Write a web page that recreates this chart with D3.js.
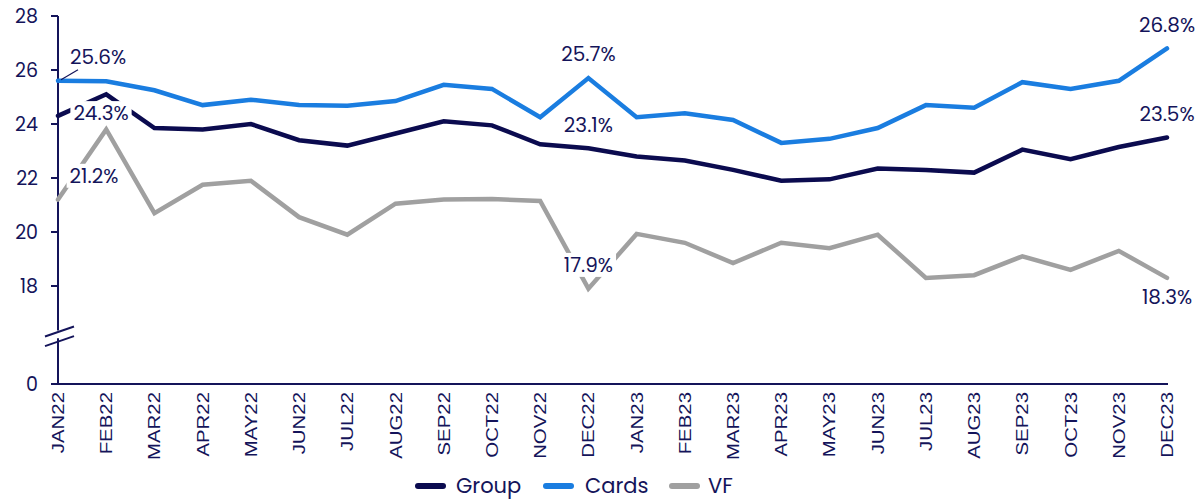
<!DOCTYPE html>
<html>
<head>
<meta charset="utf-8">
<script src="https://cdn.jsdelivr.net/npm/d3@7"></script>
<style>
  body { margin: 0; background: #fff; }
  svg { display: block; }
</style>
</head>
<body>
<div id="chart"></div>
<script>
////////////////////////////////////////////////////////////////////////////////
/////////////////////////////////////////////////////////////////////// Data
////////////////////////////////////////////////////////////////////////////////

const months = ["JAN22", "FEB22", "MAR22", "APR22", "MAY22", "JUN22", "JUL22",
                "AUG22", "SEP22", "OCT22", "NOV22", "DEC22", "JAN23", "FEB23",
                "MAR23", "APR23", "MAY23", "JUN23", "JUL23", "AUG23", "SEP23",
                "OCT23", "NOV23", "DEC23"];

const groupValues = [24.3, 25.1, 23.85, 23.8, 24.0, 23.4, 23.2, 23.65, 24.1, 23.95,
                     23.25, 23.1, 22.8, 22.65, 22.3, 21.9, 21.95, 22.35, 22.3, 22.2,
                     23.05, 22.7, 23.15, 23.5];

const cardsValues = [25.6, 25.58, 25.25, 24.7, 24.9, 24.7, 24.68, 24.85, 25.45, 25.3,
                     24.25, 25.7, 24.25, 24.4, 24.15, 23.3, 23.45, 23.85, 24.7, 24.6,
                     25.55, 25.3, 25.6, 26.8];

const vfValues = [21.2, 23.8, 20.7, 21.75, 21.9, 20.55, 19.9, 21.05, 21.2, 21.22,
                  21.15, 17.9, 19.93, 19.6, 18.85, 19.6, 19.4, 19.9, 18.3, 18.4,
                  19.1, 18.6, 19.3, 18.3];

const yTicks = [0, 18, 20, 22, 24, 26, 28];

const seriesNames = ["Group", "Cards", "VF"];

// data labels: series, month
const labelPoints = [
  ["Cards", "JAN22"], ["Group", "JAN22"], ["VF", "JAN22"],
  ["Cards", "DEC22"], ["Group", "DEC22"], ["VF", "DEC22"],
  ["Cards", "DEC23"], ["Group", "DEC23"], ["VF", "DEC23"]
];

////////////////////////////////////////////////////////////////////////////////
/////////////////////////////////////////////////////////////////////// Chart
////////////////////////////////////////////////////////////////////////////////

const navy = "#14145a";
const colors = { Group: "#0b0b4f", Cards: "#1a7de0", VF: "#a0a0a0" };
const values = { Group: groupValues, Cards: cardsValues, VF: vfValues };
const numFont = "Poppins, Inter, 'Noto Sans', sans-serif";

const W = 1201, H = 499;

const svg = d3.select("#chart")
              .append("svg")
                .attr("width", W)
                .attr("height", H);

// X scale
const xScale = d3.scalePoint()
                 .domain(months)
                 .range([58, 1167]);

// Y scale with a break between 0 and 16
const yScale = d3.scaleLinear()
                 .domain([0, 16, 28])
                 .range([384, 340, 16]);

// Y axis (drawn in two pieces around the break)
const breakTop = yScale(16.35), breakBottom = yScale(15.95);
svg.append("line")
   .attr("x1", 58).attr("x2", 58)
   .attr("y1", yScale(28)).attr("y2", breakTop)
   .attr("stroke", navy).attr("stroke-width", 2);
svg.append("line")
   .attr("x1", 58).attr("x2", 58)
   .attr("y1", breakBottom - 2).attr("y2", yScale(0))
   .attr("stroke", navy).attr("stroke-width", 2);

// break marks
[breakTop, breakBottom].forEach(function(y) {
  svg.append("line")
     .attr("x1", 45).attr("y1", y + 6)
     .attr("x2", 74).attr("y2", y - 4)
     .attr("stroke", navy)
     .attr("stroke-width", 2);
});

// y ticks
const yTick = svg.selectAll(".ytick")
                 .data(yTicks)
                 .join("g")
                   .attr("class", "ytick")
                   .attr("transform", d => `translate(0,${yScale(d)})`);
yTick.append("line")
     .attr("x1", 51).attr("x2", 58)
     .attr("stroke", navy).attr("stroke-width", 2);
yTick.append("text")
     .attr("x", 38)
     .attr("dy", "0.35em")
     .attr("text-anchor", "end")
     .style("font-family", numFont)
     .style("font-size", "19px")
     .attr("fill", navy)
     .text(d => d);

// X axis
svg.append("line")
   .attr("x1", 51).attr("x2", 1168)
   .attr("y1", yScale(0)).attr("y2", yScale(0))
   .attr("stroke", navy).attr("stroke-width", 2);

svg.selectAll(".xlabel")
   .data(months)
   .join("text")
     .attr("class", "xlabel")
     .attr("transform", d => `translate(${xScale(d) + 6},392) rotate(-90) scale(1.2,1)`)
     .attr("text-anchor", "end")
     .style("font-family", "'Liberation Sans', Arial, sans-serif")
     .style("font-size", "17px")
     .attr("fill", navy)
     .text(d => d);

// Lines
const line = d3.line()
               .x((d, i) => xScale(months[i]))
               .y(d => yScale(d));

svg.selectAll(".series")
   .data(["VF", "Group", "Cards"])
   .join("path")
     .attr("class", "series")
     .attr("d", d => line(values[d]))
     .attr("fill", "none")
     .attr("stroke", d => colors[d])
     .attr("stroke-width", 4.5)
     .attr("stroke-linejoin", "miter")
     .attr("stroke-linecap", "round");

// Data labels
function labelOffset(series, month) {
  if (month === "JAN22") {
    if (series === "Cards") return [40, -24];
    if (series === "Group") return [43, -3];
    return [36, -24];
  }
  if (month === "DEC23" && series === "VF") return [0, 19];
  return [0, -24];
}

// leader line for first Cards label
svg.append("line")
   .attr("x1", xScale("JAN22") + 3).attr("y1", yScale(cardsValues[0]) - 1)
   .attr("x2", xScale("JAN22") + 20).attr("y2", yScale(cardsValues[0]) - 11)
   .attr("stroke", navy).attr("stroke-width", 1.2);

const labels = svg.selectAll(".dlabel")
                  .data(labelPoints)
                  .join("g")
                    .attr("class", "dlabel")
                    .attr("transform", function(d) {
                      const i = months.indexOf(d[1]);
                      const off = labelOffset(d[0], d[1]);
                      return `translate(${xScale(d[1]) + off[0]},${yScale(values[d[0]][i]) + off[1]})`;
                    });

labels.append("rect")
      .attr("fill", "#fff");

labels.append("text")
      .attr("text-anchor", "middle")
      .attr("dy", "0.36em")
      .style("font-family", numFont)
      .style("font-size", "20px")
      .attr("fill", navy)
      .text(d => values[d[0]][months.indexOf(d[1])].toFixed(1) + "%");

labels.each(function() {
  const g = d3.select(this);
  const bb = g.select("text").node().getBBox();
  g.select("rect")
   .attr("x", bb.x - 3).attr("y", bb.y + 2)
   .attr("width", bb.width + 6).attr("height", bb.height - 4);
});

// Legend
const legendItems = [
  { name: "Group", x: 416, dx: 40 },
  { name: "Cards", x: 544, dx: 41 },
  { name: "VF", x: 670, dx: 38 }
];
const legend = svg.selectAll(".legend")
                  .data(legendItems)
                  .join("g")
                    .attr("class", "legend")
                    .attr("transform", d => `translate(${d.x},486)`);
legend.append("line")
      .attr("x1", 2).attr("x2", 27)
      .attr("stroke", d => colors[d.name])
      .attr("stroke-width", 6)
      .attr("stroke-linecap", "round");
legend.append("text")
      .attr("x", d => d.dx)
      .attr("dy", "0.35em")
      .style("font-family", numFont)
      .style("font-size", "21px")
      .attr("fill", navy)
      .text(d => d.name);
</script>
</body>
</html>
